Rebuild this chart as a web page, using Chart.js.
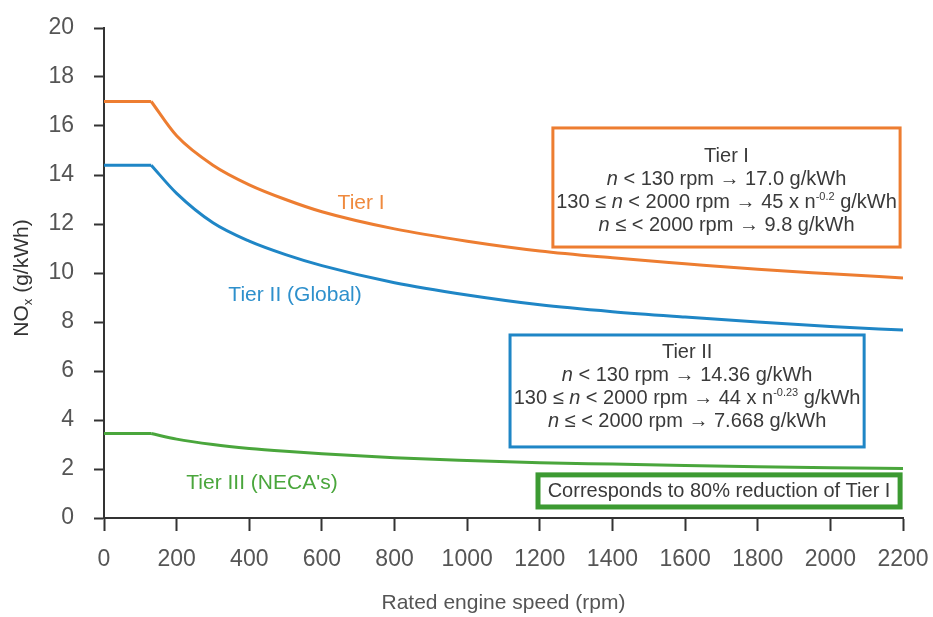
<!DOCTYPE html>
<html>
<head>
<meta charset="utf-8">
<script src="https://cdn.jsdelivr.net/npm/chart.js"></script>
<style>
  html, body { margin: 0; padding: 0; background: #fff; }
  #wrap { width: 933px; height: 617px; }
</style>
</head>
<body>
<div id="wrap"><canvas id="chart"></canvas></div>
<script>
// values
const rpm   = [0, 130, 200, 300, 400, 500, 600, 800, 1000, 1200, 1400, 1600, 1800, 2000, 2200];
const tier1 = [17.0, 17.0, 15.6, 14.4, 13.6, 13.0, 12.5, 11.8, 11.3, 10.9, 10.62, 10.38, 10.15, 9.97, 9.8];
const tier2 = [14.4, 14.4, 13.25, 12.05, 11.3, 10.75, 10.3, 9.6, 9.1, 8.7, 8.42, 8.2, 8.0, 7.82, 7.67];
const tier3 = [3.45, 3.45, 3.22, 3.0, 2.84, 2.72, 2.62, 2.46, 2.35, 2.26, 2.2, 2.14, 2.09, 2.05, 2.02];
const xTicks = [0, 200, 400, 600, 800, 1000, 1200, 1400, 1600, 1800, 2000, 2200];
const yTicks = [0, 2, 4, 6, 8, 10, 12, 14, 16, 18, 20];

const ORANGE = '#ED7D31', BLUE = '#1F86C6', GREEN = '#4AA63C';
const FONT = '"Liberation Sans", Arial, sans-serif';

const pts = (ys, from, to) => rpm.slice(from, to).map((x, i) => ({ x, y: ys.slice(from, to)[i] }));

function series(ys, color) {
  // flat part and the curve are drawn separately so the knee at 130 rpm stays sharp
  return [
    { data: pts(ys, 0, 2), borderColor: color, borderWidth: 3, pointRadius: 0, tension: 0 },
    { data: pts(ys, 1), borderColor: color, borderWidth: 3, pointRadius: 0, cubicInterpolationMode: 'monotone' }
  ];
}

// curve labels and boxes, placed in data units
const curveLabels = [
  { text: 'Tier I', x: 708, y: 12.85, color: '#EF8A3E' },
  { text: 'Tier II (Global)', x: 526, y: 9.1, color: '#2E90CC' },
  { text: "Tier III (NECA's)", x: 435, y: 1.43, color: '#4AA63C' }
];
const boxes = [
  { x0: 1236, x1: 2192, y0: 15.92, y1: 11.06, color: ORANGE, width: 3, cy: 13.33, lines: [
    [['Tier I']],
    [['n', 'i'], [' < 130 rpm \u2192 17.0 g/kWh']],
    [['130 \u2264 '], ['n', 'i'], [' < 2000 rpm \u2192 45 x n'], ['-0.2', 's'], [' g/kWh']],
    [['n', 'i'], [' \u2264 < 2000 rpm \u2192 9.8 g/kWh']]
  ]},
  { x0: 1118, x1: 2093, y0: 7.47, y1: 2.9, color: BLUE, width: 3, cy: 5.33, lines: [
    [['Tier II']],
    [['n', 'i'], [' < 130 rpm \u2192 14.36 g/kWh']],
    [['130 \u2264 '], ['n', 'i'], [' < 2000 rpm \u2192 44 x n'], ['-0.23', 's'], [' g/kWh']],
    [['n', 'i'], [' \u2264 < 2000 rpm \u2192 7.668 g/kWh']]
  ]},
  { x0: 1195, x1: 2192, y0: 1.76, y1: 0.45, color: '#3C9A32', width: 5, cy: 1.1, lines: [
    [['Corresponds to 80% reduction of Tier I']]
  ]}
];

function segFont(style) {
  if (style === 's') return '11px ' + FONT;
  if (style === 'i') return 'italic 20px ' + FONT;
  return '20px ' + FONT;
}

function drawRich(ctx, segs, cx, cy) {
  let total = 0;
  segs.forEach(s => { ctx.font = segFont(s[1]); total += ctx.measureText(s[0]).width; });
  let x = cx - total / 2;
  ctx.textAlign = 'left';
  ctx.textBaseline = 'middle';
  segs.forEach(s => {
    ctx.font = segFont(s[1]);
    ctx.fillText(s[0], x, s[1] === 's' ? cy - 6 : cy);
    x += ctx.measureText(s[0]).width;
  });
}

const notesPlugin = {
  id: 'notes',
  afterDatasetsDraw(chart) {
    const { ctx, scales: { x, y } } = chart;
    ctx.save();
    boxes.forEach(b => {
      const l = x.getPixelForValue(b.x0), r = x.getPixelForValue(b.x1);
      const t = y.getPixelForValue(b.y0), bt = y.getPixelForValue(b.y1);
      ctx.fillStyle = '#fff';
      ctx.fillRect(l, t, r - l, bt - t);
      ctx.strokeStyle = b.color;
      ctx.lineWidth = b.width;
      ctx.strokeRect(l, t, r - l, bt - t);
      ctx.fillStyle = '#3a3a3a';
      const cx = (l + r) / 2, mid = y.getPixelForValue(b.cy);
      const step = 23, start = mid - step * (b.lines.length - 1) / 2;
      b.lines.forEach((segs, i) => drawRich(ctx, segs, cx, start + i * step));
    });
    ctx.font = '21px ' + FONT;
    ctx.textAlign = 'center';
    ctx.textBaseline = 'middle';
    curveLabels.forEach(c => {
      ctx.fillStyle = c.color;
      ctx.fillText(c.text, x.getPixelForValue(c.x), y.getPixelForValue(c.y));
    });
    // y axis title with subscript x
    ctx.translate(22, 278);
    ctx.rotate(-Math.PI / 2);
    ctx.fillStyle = '#333';
    const parts = [['NO', '21px'], ['x', '13px'], [' (g/kWh)', '21px']];
    let w = 0;
    parts.forEach(p => { ctx.font = p[1] + ' ' + FONT; w += ctx.measureText(p[0]).width; });
    let px = -w / 2;
    ctx.textAlign = 'left';
    parts.forEach(p => {
      ctx.font = p[1] + ' ' + FONT;
      ctx.fillText(p[0], px, p[0] === 'x' ? 6 : 0);
      px += ctx.measureText(p[0]).width;
    });
    ctx.restore();
  }
};

new Chart(document.getElementById('chart'), {
  type: 'line',
  data: { datasets: [...series(tier1, ORANGE), ...series(tier2, BLUE), ...series(tier3, GREEN)] },
  options: {
    responsive: true,
    maintainAspectRatio: false,
    animation: false,
    layout: { padding: { top: 28, right: 30, left: 0, bottom: 0 } },
    plugins: { legend: { display: false }, tooltip: { enabled: false } },
    scales: {
      x: {
        type: 'linear', min: 0, max: 2200,
        afterBuildTicks: s => { s.ticks = xTicks.map(v => ({ value: v })); },
        afterFit: s => { s.height = 99; s.paddingLeft = 0; s.paddingRight = 0; },
        grid: { drawOnChartArea: false, tickLength: 13, tickColor: '#333', tickWidth: 2 },
        border: { color: '#333', width: 2 },
        ticks: { color: '#555', padding: 15, font: { family: FONT, size: 23 }, maxRotation: 0, callback: v => String(v) },
        title: { display: true, text: 'Rated engine speed (rpm)', color: '#555', font: { family: FONT, size: 21 }, padding: { top: 6, bottom: 1 } }
      },
      y: {
        min: 0, max: 20,
        afterBuildTicks: s => { s.ticks = yTicks.map(v => ({ value: v })); },
        afterFit: s => { s.width = 104; s.paddingTop = 0; s.paddingBottom = 0; },
        grid: { drawOnChartArea: false, tickLength: 10, tickColor: '#333', tickWidth: 2 },
        border: { color: '#333', width: 2 },
        ticks: { color: '#555', padding: 20, font: { family: FONT, size: 23 }, callback: v => String(v) }
      }
    }
  },
  plugins: [notesPlugin]
});
</script>
</body>
</html>
